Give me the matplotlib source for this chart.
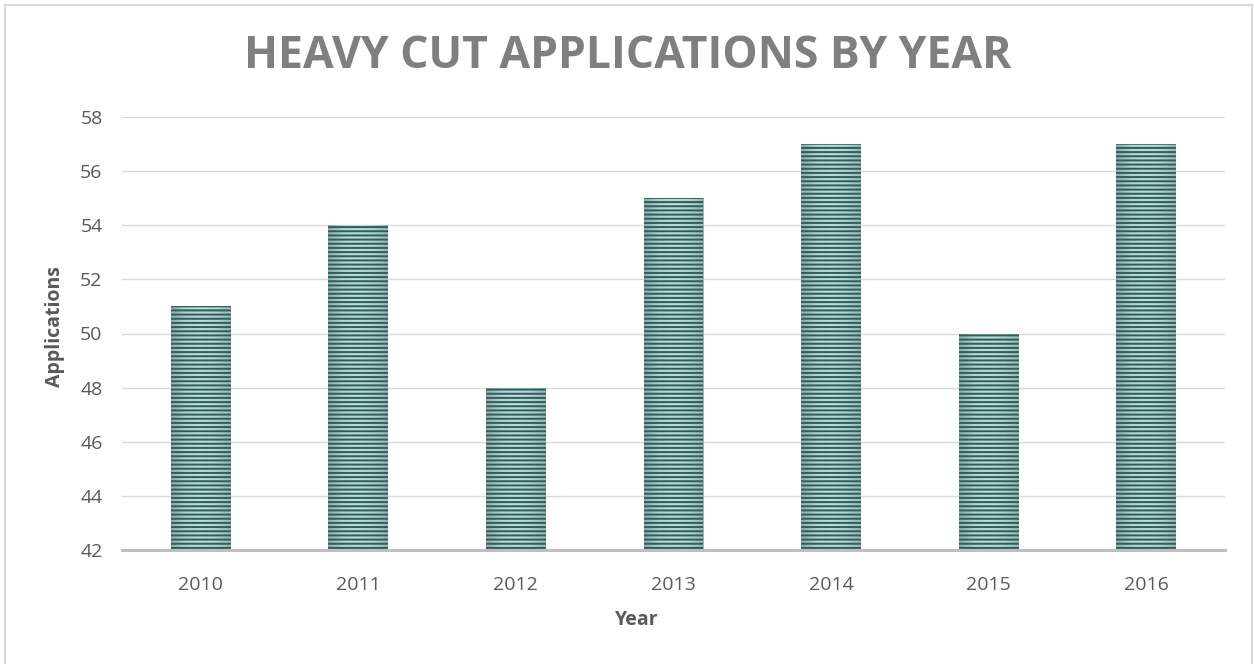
import matplotlib
matplotlib.use("Agg")
import matplotlib.pyplot as plt
import numpy as np
from matplotlib.patches import Rectangle
from matplotlib.colors import LinearSegmentedColormap

years = ["2010", "2011", "2012", "2013", "2014", "2015", "2016"]
applications = [51, 54, 48, 55, 57, 50, 57]
y_ticks = [42, 44, 46, 48, 50, 52, 54, 56, 58]

plt.rcParams["font.family"] = ["Open Sans", "DejaVu Sans"]
plt.rcParams["hatch.linewidth"] = 1.45

fig = plt.figure(figsize=(12.54, 6.64), dpi=100)
fig.patch.set_facecolor("white")

# chart frame
fig.add_artist(Rectangle((5 / 1254, -0.01), 1247 / 1254, 1 - 5 / 664 + 0.01,
                         transform=fig.transFigure, fill=False,
                         edgecolor="#d9d9d9", linewidth=1.5))

ax = fig.add_axes([122 / 1254, 1 - 550 / 664, (1225 - 122) / 1254, (550 - 117) / 664])

x = np.arange(len(years))
bottom = y_ticks[0]
heights = [v - bottom for v in applications]

# striped bars; the fill underneath is a soft horizontal gradient
bars = ax.bar(x, heights, bottom=bottom, width=0.38, facecolor="none",
              edgecolor="#2f5f5d", linewidth=0, hatch="----", zorder=3)

shade = LinearSegmentedColormap.from_list(
    "shade", ["#93adab", "#b3d6d2", "#bcdeda", "#b3d6d2", "#9db7b5"])
grad = np.linspace(0, 1, 64).reshape(1, -1)
for b in bars:
    x0, y0 = b.get_x(), b.get_y()
    im = ax.imshow(grad, cmap=shade, aspect="auto", zorder=2,
                   extent=(x0, x0 + b.get_width(), y0, y0 + b.get_height()))
    im.set_clip_path(b)

ax.set_xlim(-0.5, len(years) - 0.5)
ax.set_ylim(y_ticks[0], y_ticks[-1])
ax.set_yticks(y_ticks)
ax.set_xticks(x)
ax.set_xticklabels(years)

ax.grid(axis="y", color="#d9d9d9", linewidth=1.0, zorder=0)
ax.set_axisbelow(True)
for side in ["top", "right", "left"]:
    ax.spines[side].set_visible(False)
ax.spines["bottom"].set_color("#bfbfbf")
ax.spines["bottom"].set_linewidth(2.2)
ax.spines["bottom"].set_zorder(4)

ax.tick_params(axis="both", length=0, labelsize=14, labelcolor="#595959")
ax.tick_params(axis="y", pad=14)
ax.tick_params(axis="x", pad=19)

ax.set_xlabel("Year", fontsize=14, fontweight="bold", color="#595959")
ax.set_ylabel("Applications", fontsize=14, fontweight="bold", color="#595959")
ax.xaxis.set_label_coords((637 - 122) / (1225 - 122), -(620 - 550) / (550 - 117))
ax.xaxis.label.set_va("center")
ax.yaxis.set_label_coords(-(122 - 55) / (1225 - 122), (550 - 327) / (550 - 117))
ax.yaxis.label.set_va("center")

fig.text(628 / 1254, 1 - 57 / 664, "HEAVY CUT APPLICATIONS BY YEAR",
         ha="center", va="center", fontsize=32, fontweight="bold",
         color="#7f7f7f")

fig.savefig("out.png", dpi=100, facecolor="white")
